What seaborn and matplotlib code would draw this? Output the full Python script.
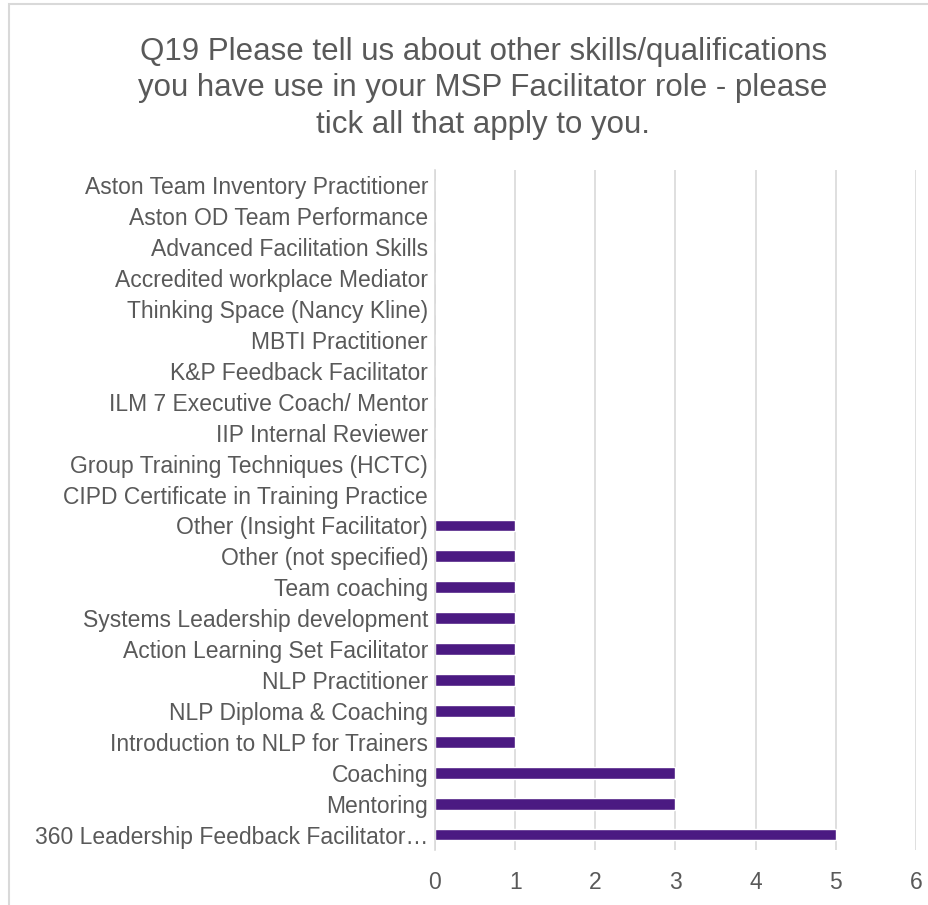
import matplotlib
matplotlib.use("Agg")
import matplotlib.pyplot as plt
import seaborn as sns
import pandas as pd
from matplotlib.patches import Rectangle

skills = [
    "Aston Team Inventory Practitioner",
    "Aston OD Team Performance",
    "Advanced Facilitation Skills",
    "Accredited workplace Mediator",
    "Thinking Space (Nancy Kline)",
    "MBTI Practitioner",
    "K&P Feedback Facilitator",
    "ILM 7 Executive Coach/ Mentor",
    "IIP Internal Reviewer",
    "Group Training Techniques (HCTC)",
    "CIPD Certificate in Training Practice",
    "Other (Insight Facilitator)",
    "Other (not specified)",
    "Team coaching",
    "Systems Leadership development",
    "Action Learning Set Facilitator",
    "NLP Practitioner",
    "NLP Diploma & Coaching",
    "Introduction to NLP for Trainers",
    "Coaching",
    "Mentoring",
    "360 Leadership Feedback Facilitator\u2026",
]
counts = [0, 0, 0, 0, 0, 0, 0, 0, 0, 0, 0, 1, 1, 1, 1, 1, 1, 1, 1, 3, 3, 5]
x_ticks = [0, 1, 2, 3, 4, 5, 6]

title = ("Q19 Please tell us about other skills/qualifications\n"
         "you have use in your MSP Facilitator role - please\n"
         "tick all that apply to you.")

sns.set_theme(style="white")
plt.rcParams["font.family"] = ["Liberation Sans", "DejaVu Sans"]

text_color = "#595959"
grid_color = "#D9D9D9"
bar_color = "#4B1A82"

df = pd.DataFrame({"skill": skills, "count": counts})

fig = plt.figure(figsize=(9.29, 9.05), dpi=100)
ax = fig.add_axes([435 / 929, 1 - 850 / 905, (916 - 435) / 929, (850 - 170) / 905])

sns.barplot(data=df, y="skill", x="count", orient="h", color=bar_color,
            width=0.38, saturation=1, ax=ax)

ax.set_xlim(0, 6)
ax.set_ylim(len(skills) - 0.5, -0.5)
ax.set_xticks(x_ticks)
ax.set_xticklabels([str(t) for t in x_ticks])
ax.set_xlabel("")
ax.set_ylabel("")
ax.grid(axis="x", color=grid_color, linewidth=1.2)
ax.set_axisbelow(True)
for s in ["top", "right", "bottom"]:
    ax.spines[s].set_visible(False)
ax.spines["left"].set_color(grid_color)
ax.spines["left"].set_linewidth(1.2)
ax.tick_params(axis="x", length=0, pad=15, labelsize=16.5, labelcolor=text_color)
ax.tick_params(axis="y", length=0, pad=5, labelsize=16.5, labelcolor=text_color)

fig.text(0.52, 0.959, title, ha="center", va="top", fontsize=22.5,
         color=text_color, linespacing=1.27)

# chart area border
fig.patches.append(Rectangle((9 / 929, -0.01), 1.0, 1 - 4 / 905 + 0.01,
                             transform=fig.transFigure, fill=False,
                             edgecolor="#D9D9D9", linewidth=1.5))

fig.savefig("out.png", dpi=100)
